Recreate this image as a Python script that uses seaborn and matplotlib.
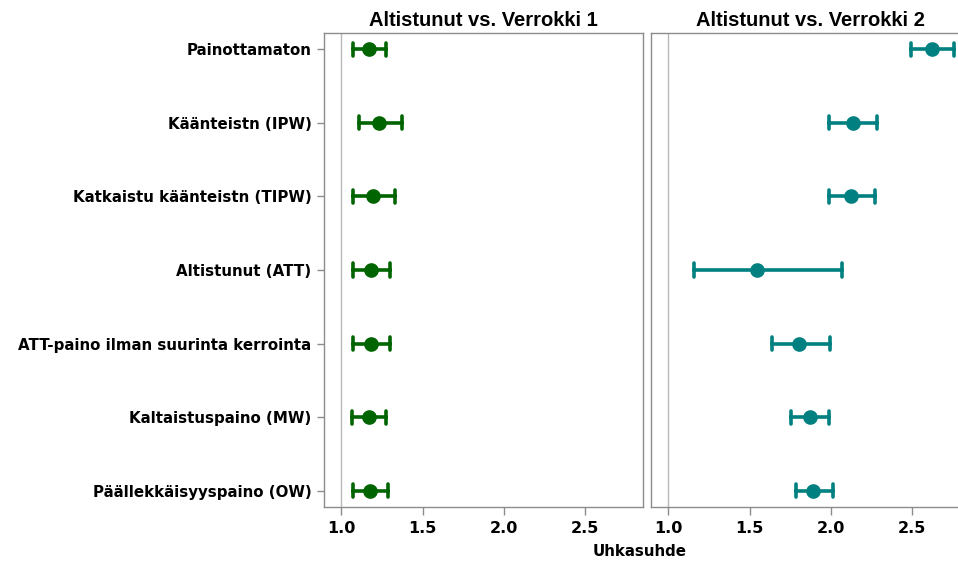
import matplotlib
matplotlib.use("Agg")
import matplotlib.pyplot as plt
import numpy as np
import pandas as pd
import seaborn as sns

sns.set_theme(style="white")
plt.rcParams["font.family"] = ["DejaVu Sans"]
plt.rcParams["text.color"] = "black"
plt.rcParams["xtick.labelcolor"] = "black"
plt.rcParams["ytick.labelcolor"] = "black"

# Weighting methods (top to bottom)
methods = [
    "Painottamaton",
    "Käänteistn (IPW)",
    "Katkaistu käänteistn (TIPW)",
    "Altistunut (ATT)",
    "ATT-paino ilman suurinta kerrointa",
    "Kaltaistuspaino (MW)",
    "Päällekkäisyyspaino (OW)",
]

# Hazard ratios with 95% confidence limits
hr_1 = [1.17, 1.234, 1.197, 1.18, 1.18, 1.17, 1.176]
lo_1 = [1.074, 1.109, 1.074, 1.074, 1.074, 1.068, 1.074]
hi_1 = [1.273, 1.371, 1.33, 1.30, 1.30, 1.273, 1.285]

hr_2 = [2.62, 2.133, 2.125, 1.548, 1.806, 1.869, 1.892]
lo_2 = [2.49, 1.988, 1.988, 1.16, 1.64, 1.753, 1.783]
hi_2 = [2.755, 2.285, 2.27, 2.07, 1.994, 1.988, 2.012]

panels = [
    ("Altistunut vs. Verrokki 1", hr_1, lo_1, hi_1, "#006400"),
    ("Altistunut vs. Verrokki 2", hr_2, lo_2, hi_2, "#008080"),
]

x_ticks = [1.0, 1.5, 2.0, 2.5]


def long_form(est, lo, hi):
    rows = []
    for m, e, l, h in zip(methods, est, lo, hi):
        for v in (l, e, h):
            rows.append({"menetelma": m, "hr": v})
    return pd.DataFrame(rows)


W, H = 958, 563
fig = plt.figure(figsize=(W / 100, H / 100), dpi=100)
top, bottom = 33, 507
axes = [
    fig.add_axes([324 / W, (H - bottom) / H, 319 / W, (bottom - top) / H]),
    fig.add_axes([651 / W, (H - bottom) / H, 319 / W, (bottom - top) / H]),
]

frame_col = "#8c8c8c"
for i, (ax, (title, est, lo, hi, col)) in enumerate(zip(axes, panels)):
    df = long_form(est, lo, hi)
    ax.axvline(1.0, color="#b8b8b8", lw=1.0, zorder=0)
    sns.pointplot(
        data=df, x="hr", y="menetelma", order=methods, orient="h",
        estimator=np.median, errorbar=lambda v: (np.min(v), np.max(v)),
        color=col, markers="o", linestyle="none", capsize=0.18,
        err_kws={"linewidth": 2.6}, markersize=8.5, ax=ax,
    )
    ax.set_xlim(0.894, 2.854)
    ax.set_ylim(6.22, -0.22)
    ax.set_xticks(x_ticks)
    ax.set_xticklabels([f"{t:.1f}" for t in x_ticks], fontsize=11.5,
                       fontweight="bold")
    ax.set_xlabel("")
    ax.set_ylabel("")
    ax.set_title(title, fontsize=14.5, fontweight="bold",
                 family="Liberation Sans", pad=5, color="black")
    for s in ax.spines.values():
        s.set_color(frame_col)
        s.set_linewidth(1.0)
    ax.tick_params(axis="x", bottom=True, length=6, width=1,
                   color=frame_col, labelcolor="black", pad=4)
    if i == 0:
        ax.tick_params(axis="y", left=True, length=5, width=1,
                       color=frame_col, labelcolor="black", pad=4)
        for lab in ax.get_yticklabels():
            lab.set_fontweight("bold")
            lab.set_fontsize(10.8)
    else:
        ax.set_yticks([])

fig.text(640 / W, 1 - 552 / H, "Uhkasuhde", ha="center", va="center",
         fontsize=10.8, fontweight="bold", color="black")

fig.savefig("out.png", dpi=100)
